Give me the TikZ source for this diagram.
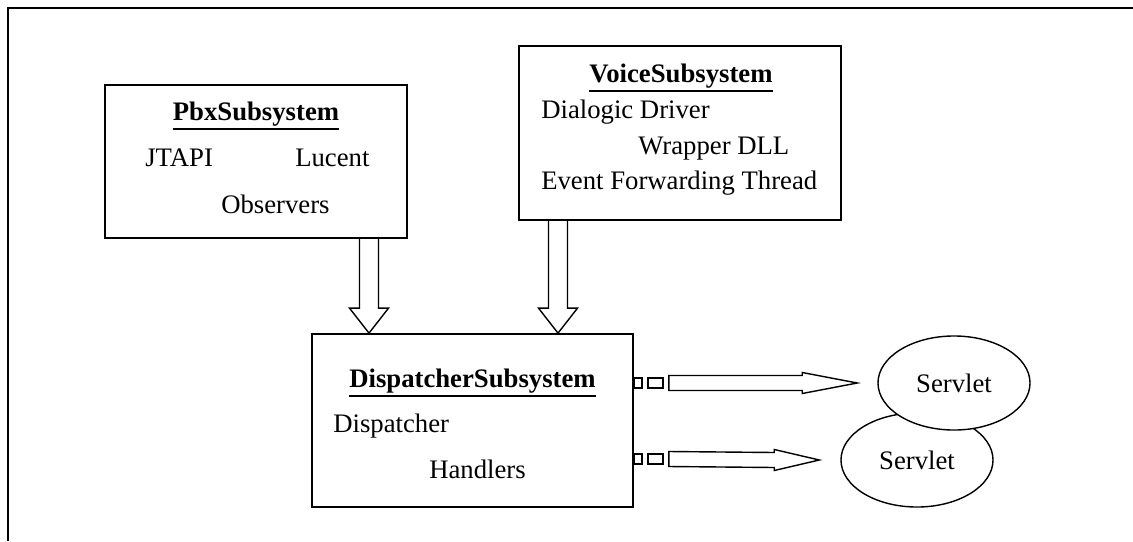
\documentclass[tikz,border=0pt]{standalone}
\usepackage{fontspec}
\setmainfont{Liberation Serif}
\usetikzlibrary{calc,shapes.geometric}

\newcommand{\thickul}[1]{\leavevmode\vtop{\hbox{#1}\kern1.4pt\hrule height 1.5pt}}

\tikzset{
  subsys/.style={draw, line width=1.2pt, rectangle, inner sep=0pt},
  servlet/.style={draw, line width=1pt, ellipse, fill=white, inner sep=0pt,
    minimum width=3.8cm, minimum height=2.35cm},
  txt/.style={anchor=base west, inner sep=0pt},
  title/.style={anchor=base, inner sep=0pt, font=\fontsize{19}{22}\selectfont\bfseries},
  hollow/.style={draw, line width=1pt}
}

% down block arrow from #1 to tip #2
\newcommand{\blockdown}[2]{
  \draw[hollow] ($(#1)+(-9.5,0)$) -- ($(#2)+(-9.5,-25)$) -- ($(#2)+(-19.5,-25)$) -- (#2)
    -- ($(#2)+(19.5,-25)$) -- ($(#2)+(9.5,-25)$) -- ($(#1)+(9.5,0)$);
}
% right block arrow with two small boxes, from #1 to tip #2, head length #3
\newcommand{\blockright}[3]{
  \draw[hollow] ($(#1)+(0,-5)$) rectangle ($(#1)+(8,5)$);
  \draw[hollow] ($(#1)+(14,-5)$) rectangle ($(#1)+(29,5)$);
  \draw[hollow] ($(#1)+(35,-7.5)$) -- ($(#2)+(-#3,-7.5)$) -- ($(#2)+(-#3,-10.5)$) -- (#2)
    -- ($(#2)+(-#3,10.5)$) -- ($(#2)+(-#3,7.5)$) -- ($(#1)+(35,7.5)$) -- cycle;
}

\begin{document}
\begin{tikzpicture}[x=0.025cm, y=-0.025cm, font=\fontsize{19}{22}\selectfont]
  \useasboundingbox (0,0) rectangle (1133,541);

  % frame
  \draw[line width=1.1pt] (1133,8) -- (8,8) -- (8,541);

  % subsystems
  \draw node[subsys, minimum width=7.55cm, minimum height=3.825cm] (pbx) at (256,161.5) {};
  \draw node[subsys, minimum width=8.05cm, minimum height=4.35cm] (voice) at (680,133) {};
  \draw node[subsys, minimum width=8.025cm, minimum height=4.325cm] (disp) at (472.5,420.5) {};

  \node[title] (pbxt) at (256,120) {\thickul{PbxSubsystem}};
  \node[txt] (jtapi) at (145,166) {JTAPI};
  \node[txt] (lucent) at (295,166) {Lucent};
  \node[txt] (obs) at (221,213) {Observers};

  \node[title] (voicet) at (681,82) {\thickul{VoiceSubsystem}};
  \node[txt] (dialogic) at (541,118) {Dialogic Driver};
  \node[txt] (wrapper) at (638,154) {Wrapper DLL};
  \node[txt] (event) at (541,189) {Event Forwarding Thread};

  \node[title] (dispt) at (472.5,387) {\thickul{DispatcherSubsystem}};
  \node[txt] (dispatcher) at (333,432) {Dispatcher};
  \node[txt] (handlers) at (429,478) {Handlers};

  % servlets
  \draw node[servlet] (serv2) at (917,460) {Servlet};
  \draw node[servlet] (serv1) at (954,383) {Servlet};

  % arrows into the dispatcher
  \coordinate (pbxout) at (pbx.south -| 369,0);
  \coordinate (pbxin) at (disp.north -| 369,0);
  \coordinate (voiceout) at (voice.south -| 558,0);
  \coordinate (voicein) at (disp.north -| 558,0);
  \blockdown{pbxout}{pbxin}
  \blockdown{voiceout}{voicein}

  % arrows to the servlets
  \coordinate (out1) at (disp.east |- 0,383);
  \coordinate (in1) at ($(serv1.west)+(-20,0)$);
  \coordinate (out2) at (disp.east |- 0,459);
  \coordinate (in2) at ($(serv2.west)+(-21,0)$);
  \blockright{out1}{in1}{55}
  \blockright{out2}{in2}{45}
\end{tikzpicture}
\end{document}
